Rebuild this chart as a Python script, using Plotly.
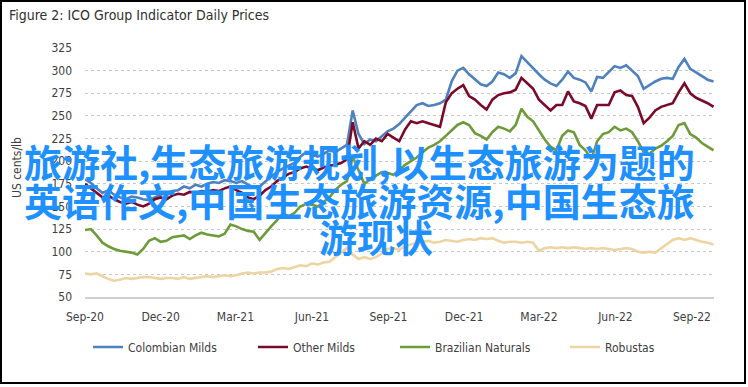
import pandas as pd
import plotly.graph_objects as go

# ---- data (weekly readings, US cents/lb) ----
start_date = "2020-09-01"
n_weeks = 109
dates = pd.date_range(start_date, periods=n_weeks, freq="7D")

colombian_milds = [
    180, 176, 170, 165, 168, 163, 160, 158, 161, 160,
    158, 157, 160, 163, 165, 167, 168, 172, 170, 174,
    172, 175, 177, 176, 179, 178, 176, 178, 174, 171,
    172, 178, 183, 188, 192, 195, 198, 205, 210, 207,
    205, 208, 212, 210, 214, 218, 256, 230, 219, 224,
    222, 228, 233, 236, 241, 248, 255, 262, 264, 261,
    262, 264, 268, 288, 300, 303, 296, 290, 285, 283,
    288, 298, 296, 292, 297, 316, 309, 302, 296, 290,
    286, 283, 290, 299, 292, 290, 287, 277, 293, 292,
    298, 305, 303, 306, 300, 294, 280, 284, 288, 291,
    292, 291, 304, 313, 302, 298, 294, 290, 288,
]
other_milds = [
    175, 170, 164, 160, 162, 158, 155, 153, 155, 152,
    150, 153, 158, 160, 158, 162, 164, 163, 166, 165,
    167, 166, 168, 167, 170, 172, 168, 165, 160, 158,
    162, 168, 172, 178, 182, 186, 188, 192, 194, 192,
    190, 193, 195, 196, 198, 202, 243, 214, 222, 218,
    225, 222, 230, 226, 222, 235, 244, 242, 244, 242,
    240, 238, 265, 275, 280, 284, 272, 268, 262, 257,
    268, 273, 275, 276, 279, 292, 286, 280, 268, 262,
    256, 262, 262, 277, 266, 264, 261, 247, 262, 262,
    262, 276, 278, 273, 272, 260, 242, 248, 256, 260,
    262, 264, 276, 286, 275, 270, 267, 264, 260,
]
brazilian_naturals = [
    124, 125, 118, 110, 106, 103, 101, 100, 99, 97,
    103, 112, 115, 111, 112, 116, 117, 118, 114, 118,
    121, 119, 118, 117, 120, 130, 128, 125, 123, 122,
    113, 121, 128, 135, 142, 139, 143, 150, 153, 152,
    150, 155, 160, 168, 174, 178, 205, 190, 175, 180,
    184, 188, 187, 185, 190, 196, 200, 204, 210, 215,
    218, 222, 228, 234, 240, 243, 240, 231, 228, 224,
    232, 238, 236, 233, 240, 258, 249, 244, 234, 224,
    216, 212, 228, 234, 232, 218, 212, 202, 222, 230,
    232, 238, 234, 236, 232, 222, 210, 208, 214, 217,
    222, 228, 240, 242, 230, 226, 220, 216, 212,
]
robustas = [
    76, 75, 76, 73, 70, 68, 69, 71, 70, 71,
    72, 72, 71, 70, 71, 71, 70, 72, 70, 71,
    72, 73, 72, 73, 74, 73, 74, 76, 77, 76,
    77, 77, 78, 81, 82, 81, 83, 85, 84, 87,
    86, 88, 89, 94, 99, 104, 97, 92, 94, 92,
    94, 98, 103, 104, 102, 106, 108, 110, 111, 112,
    110, 111, 113, 112, 111, 113, 114, 113, 115, 114,
    115, 112, 110, 111, 111, 110, 111, 110, 101, 104,
    105, 104, 105, 104, 105, 104, 103, 104, 103, 104,
    103, 102, 103, 104, 103, 100, 99, 100, 99, 104,
    108, 113, 115, 113, 115, 113, 111, 110, 108,
]

series_names = ["Colombian Milds", "Other Milds", "Brazilian Naturals", "Robustas"]
series_values = [colombian_milds, other_milds, brazilian_naturals, robustas]
series_colors = ["#4F81BD", "#7A0A2A", "#6E9B3A", "#ECD5A2"]

tick_dates = ["2020-09-01", "2020-12-01", "2021-03-01", "2021-06-01", "2021-09-01",
              "2021-12-01", "2022-03-01", "2022-06-01", "2022-09-01"]
tick_labels = ["Sep-20", "Dec-20", "Mar-21", "Jun-21", "Sep-21",
               "Dec-21", "Mar-22", "Jun-22", "Sep-22"]
y_ticks = [50, 75, 100, 125, 150, 175, 200, 225, 250, 275, 300, 325]

title_text = "Figure 2: ICO Group Indicator Daily Prices"
y_title = "US cents/lb"
overlay_lines = ["旅游社,生态旅游规划,以生态旅游为题的",
                 "英语作文,中国生态旅游资源,中国生态旅",
                 "游现状"]

# ---- layout geometry (pixels) ----
W, H = 748, 387
L, R, T, B = 85, 714, 48, 297


def px(x):
    return (x - L) / (R - L)


def py(y):
    return (B - y) / (B - T)


narrow = "Liberation Sans Narrow, DejaVu Sans Condensed, Arial Narrow, sans-serif"
legend_x = [88, 253, 395, 565]
legend_keys = ["legend", "legend2", "legend3", "legend4"]

fig = go.Figure()
for name, vals, col, lk in zip(series_names, series_values, series_colors, legend_keys):
    fig.add_trace(go.Scatter(x=dates, y=vals, name=name, mode="lines",
                             line=dict(color=col, width=2.6), legend=lk))

legend_layout = {}
for lk, lx in zip(legend_keys, legend_x):
    legend_layout[lk] = dict(orientation="h", x=px(lx), xanchor="left",
                             y=py(347), yanchor="middle", bgcolor="rgba(0,0,0,0)",
                             font=dict(family=narrow, size=12, color="#404040"),
                             itemwidth=30)

fig.update_layout(
    width=W, height=H,
    margin=dict(l=L, r=W - R, t=T, b=H - B, pad=0),
    paper_bgcolor="white", plot_bgcolor="white",
    font=dict(family=narrow, size=12, color="#404040"),
    showlegend=True,
    xaxis=dict(type="date", range=["2020-09-01", "2022-09-27 14:00"],
               tickvals=tick_dates, ticktext=tick_labels, showgrid=False,
               showline=True, linecolor="#d0d0d0", linewidth=1.5,
               ticks="", ticklabelstandoff=8, zeroline=False,
               tickfont=dict(family=narrow, size=12, color="#404040")),
    yaxis=dict(range=[50, 325], tickvals=y_ticks, showgrid=True,
               gridcolor="#c8c8c8", griddash="dot", gridwidth=1.3,
               zeroline=False, showline=False, ticks="", ticklabelstandoff=12,
               tickfont=dict(family=narrow, size=12, color="#404040")),
    **legend_layout,
)

annotations = [
    dict(text=title_text, x=px(7), y=py(15), xref="paper", yref="paper",
         xanchor="left", yanchor="middle", showarrow=False,
         font=dict(family=narrow, size=14, color="#303030")),
    dict(text=y_title, x=px(17), y=py(168), xref="paper", yref="paper",
         xanchor="center", yanchor="middle", showarrow=False, textangle=-90,
         font=dict(family=narrow, size=12, color="#404040")),
]
overlay_pos = [(22, 160, "left"), (22, 199, "left"), (376, 235, "center")]
for line, (ox, oy, anc) in zip(overlay_lines, overlay_pos):
    annotations.append(dict(text=line, x=px(ox), y=py(oy), xref="paper", yref="paper",
                            xanchor=anc, yanchor="middle", showarrow=False,
                            font=dict(family="Noto Sans CJK SC", size=38,
                                      color="#1E90FF", weight="bold")))
fig.update_layout(annotations=annotations)

fig.add_shape(type="rect", xref="paper", yref="paper",
              x0=px(1), x1=px(745), y0=py(383), y1=py(1),
              line=dict(color="black", width=2), fillcolor="rgba(0,0,0,0)", layer="above")

fig.write_html("out.html", config={"displayModeBar": False},
               post_script="document.body.style.margin='0';")
